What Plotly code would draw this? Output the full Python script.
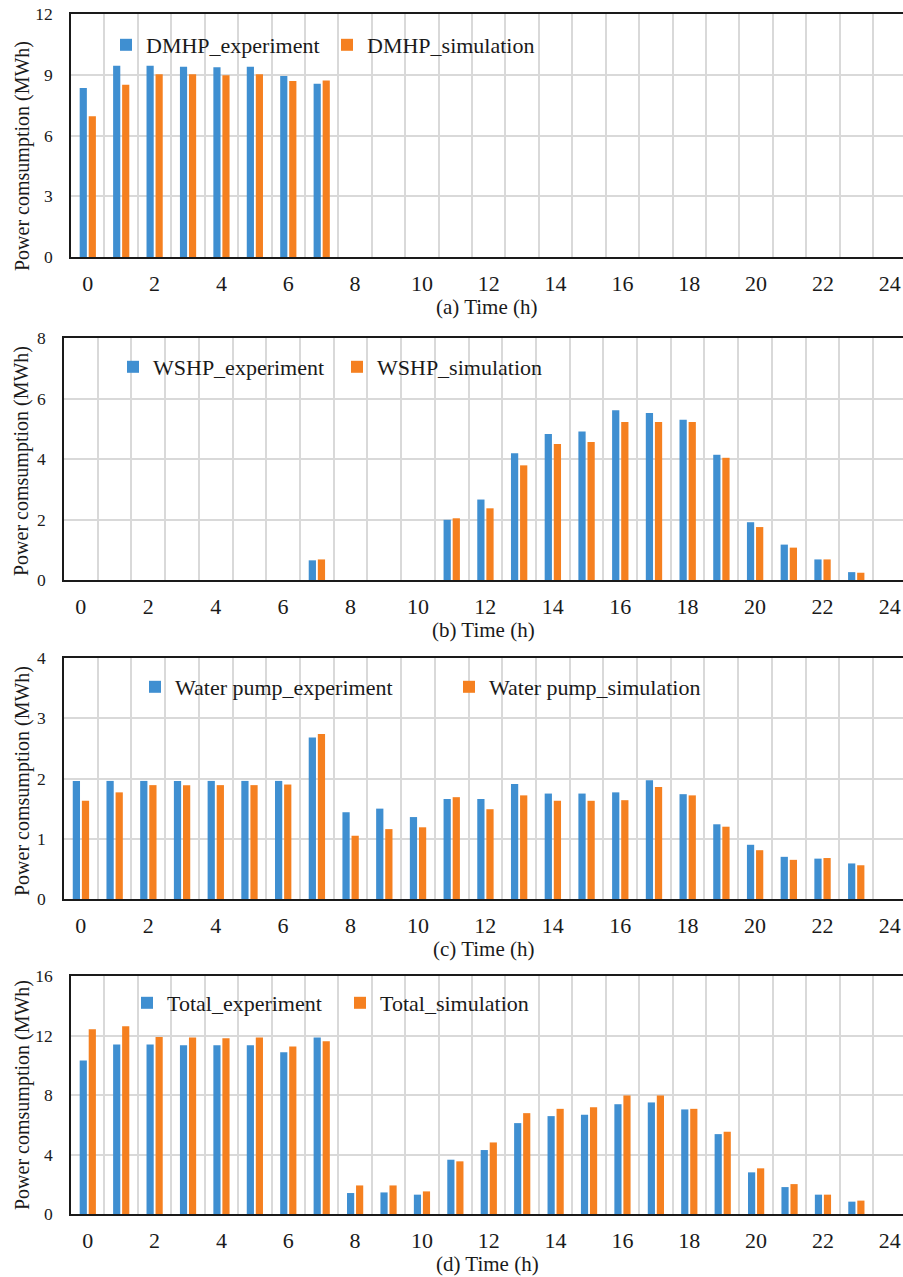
import plotly.graph_objects as go

hours = list(range(24))
x_tick_labels = [str(v) for v in range(0, 25, 2)]

dmhp_exp = [8.35, 9.45, 9.45, 9.40, 9.37, 9.40, 8.94, 8.56] + [0] * 16
dmhp_sim = [6.95, 8.51, 9.02, 9.02, 8.97, 9.02, 8.69, 8.72] + [0] * 16

wshp_exp = [0, 0, 0, 0, 0, 0, 0, 0.65, 0, 0, 0, 1.99, 2.66, 4.19, 4.83, 4.91,
            5.61, 5.52, 5.30, 4.14, 1.91, 1.17, 0.68, 0.26]
wshp_sim = [0, 0, 0, 0, 0, 0, 0, 0.68, 0, 0, 0, 2.04, 2.37, 3.79, 4.50, 4.56,
            5.22, 5.22, 5.22, 4.04, 1.75, 1.07, 0.68, 0.24]

pump_exp = [1.96, 1.96, 1.96, 1.96, 1.96, 1.96, 1.96, 2.68, 1.44, 1.50, 1.36, 1.66,
            1.66, 1.91, 1.75, 1.75, 1.77, 1.97, 1.74, 1.24, 0.90, 0.70, 0.67, 0.59]
pump_sim = [1.63, 1.77, 1.89, 1.89, 1.89, 1.89, 1.90, 2.74, 1.05, 1.16, 1.19, 1.69,
            1.49, 1.72, 1.63, 1.63, 1.64, 1.86, 1.72, 1.20, 0.81, 0.65, 0.68, 0.56]

total_exp = [10.32, 11.39, 11.39, 11.35, 11.35, 11.35, 10.88, 11.86, 1.41, 1.45, 1.30, 3.65,
             4.30, 6.11, 6.58, 6.67, 7.38, 7.50, 7.03, 5.37, 2.80, 1.81, 1.30, 0.83]
total_sim = [12.42, 12.62, 11.90, 11.86, 11.81, 11.86, 11.26, 11.61, 1.92, 1.92, 1.52, 3.54,
             4.81, 6.78, 7.07, 7.18, 7.97, 7.97, 7.07, 5.53, 3.07, 2.01, 1.30, 0.90]

panels = [
    dict(exp=dmhp_exp, sim=dmhp_sim, names=("DMHP_experiment", "DMHP_simulation"),
         ymax=12, dtick=3, title="(a) Time (h)"),
    dict(exp=wshp_exp, sim=wshp_sim, names=("WSHP_experiment", "WSHP_simulation"),
         ymax=8, dtick=2, title="(b) Time (h)"),
    dict(exp=pump_exp, sim=pump_sim, names=("Water pump_experiment", "Water pump_simulation"),
         ymax=4, dtick=1, title="(c) Time (h)"),
    dict(exp=total_exp, sim=total_sim, names=("Total_experiment", "Total_simulation"),
         ymax=16, dtick=4, title="(d) Time (h)"),
]

W, H = 903, 1277

def fx(px):
    return px / W

def fy(py):
    return 1 - py / H

# pixel geometry (page coords)
geom = [
    dict(l=71, t=14, b=257, ytc=156, lx=106, ew=176, ly=45),
    dict(l=64, t=338, b=580, ytc=461, lx=113, ew=179, ly=367),
    dict(l=64, t=658, b=899, ytc=781, lx=135, ew=269, ly=687),
    dict(l=71, t=976, b=1214, ytc=1095, lx=127, ew=168, ly=1003),
]

BLUE = "#3F8FD1"
ORANGE = "#F58020"
FONT = "Liberation Serif, Times New Roman, Times, serif"
GRID = "#D9D9D9"
LINE = "#1A1A1A"

fig = go.Figure()
layout = dict(
    width=W, height=H, autosize=False,
    margin=dict(l=0, r=0, t=0, b=0, pad=0, autoexpand=False),
    paper_bgcolor="white", plot_bgcolor="white",
    barmode="overlay", showlegend=True,
    font=dict(family=FONT, color=LINE),
    annotations=[],
)

for i, (p, g) in enumerate(zip(panels, geom)):
    n = "" if i == 0 else str(i + 1)
    xa, ya = "x" + n, "y" + n
    leg = "legend" + n
    unit = (873 - g["l"]) / 24.0
    xmax = 23.5 + (W - 873) / unit
    fig.add_trace(go.Bar(x=hours, y=p["exp"], name=p["names"][0], marker=dict(color=BLUE, line=dict(width=0)),
                         width=0.215, offset=-0.24, xaxis=xa, yaxis=ya, legend=leg))
    fig.add_trace(go.Bar(x=hours, y=p["sim"], name=p["names"][1], marker=dict(color=ORANGE, line=dict(width=0)),
                         width=0.215, offset=0.03, xaxis=xa, yaxis=ya, legend=leg))
    layout["xaxis" + n] = dict(
        domain=[fx(g["l"]), 1.0], anchor=ya, range=[-0.5, xmax],
        tickmode="array", tickvals=list(range(0, 25, 2)), ticktext=x_tick_labels,
        showgrid=False, zeroline=False,
        showline=True, mirror=True, linecolor=LINE, linewidth=1.5,
        ticks="", ticklabelstandoff=6, ticklabeloverflow="allow",
        tickfont=dict(family=FONT, size=22, color=LINE),
        minor=dict(tickvals=[h + 0.5 for h in hours], showgrid=True, gridcolor=GRID, gridwidth=1.5, ticks=""),
        fixedrange=True,
    )
    layout["yaxis" + n] = dict(
        domain=[fy(g["b"]), fy(g["t"])], anchor=xa, range=[0, p["ymax"]], dtick=p["dtick"], tick0=0,
        showgrid=True, gridcolor=GRID, gridwidth=1.5, zeroline=False,
        showline=True, mirror=False, linecolor=LINE, linewidth=1.5,
        ticks="", ticklabelstandoff=13, ticklabeloverflow="allow",
        tickfont=dict(family=FONT, size=17.5, color=LINE),
        fixedrange=True,
    )
    layout[leg] = dict(
        orientation="h", x=fx(g["lx"]), xanchor="left", y=fy(g["ly"]), yanchor="middle",
        bgcolor="rgba(0,0,0,0)", borderwidth=0,
        font=dict(family=FONT, size=22, color=LINE),
        entrywidth=g["ew"], entrywidthmode="pixels",
        traceorder="normal",
    )
    layout["annotations"].append(dict(
        text="Power comsumption (MWh)", textangle=-90, xref="paper", yref="paper",
        x=fx(22), y=fy(g["ytc"]), xanchor="center", yanchor="middle", showarrow=False,
        font=dict(family=FONT, size=20, color=LINE)))
    layout["annotations"].append(dict(
        text=p["title"], xref="paper", yref="paper",
        x=fx((g["l"] + W) / 2), y=fy(g["b"] + 50), xanchor="center", yanchor="middle",
        showarrow=False, font=dict(family=FONT, size=21, color=LINE)))

fig.update_layout(**layout)
fig.write_html(
    "out.html",
    config={"displayModeBar": False},
    post_script="document.body.style.margin='0';document.body.style.overflow='hidden';",
)
